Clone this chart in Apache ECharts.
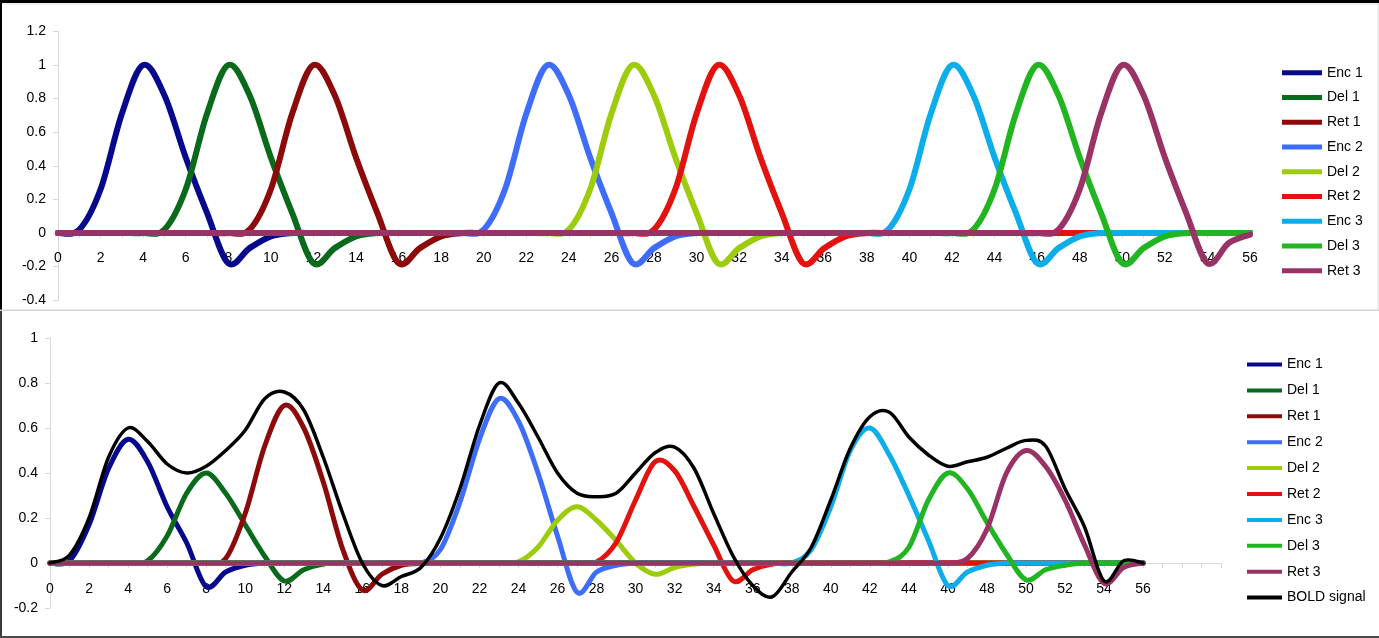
<!DOCTYPE html>
<html>
<head>
<meta charset="utf-8">
<script src="https://cdn.jsdelivr.net/npm/echarts@6/dist/echarts.min.js"></script>
<style>
  html, body { margin: 0; padding: 0; background: #fff; }
  #chart { width: 1379px; height: 638px; }
</style>
</head>
<body>
<div id="chart"></div>
<script>
// Time points (x axis), shared by both panels
const hours = [0,1,2,3,4,5,6,7,8,9,10,11,12,13,14,15,16,17,18,19,20,21,22,23,24,25,26,27,28,29,
               30,31,32,33,34,35,36,37,38,39,40,41,42,43,44,45,46,47,48,49,50,51,52,53,54,55,56];

const names = ['Enc 1','Del 1','Ret 1','Enc 2','Del 2','Ret 2','Enc 3','Del 3','Ret 3'];
const colors = ['#06098c','#0a6a1c','#8c0a0a','#3e6dfa','#9ccc0c','#e3120f','#0badea','#22b522','#993366'];

// Upper panel: unit-amplitude responses per trial phase
const encTop1 = [0,0.02,0.26,0.71,1,0.82,0.45,0.12,-0.18,-0.09,
  -0.02,0,0,0,0,0,0,0,0,0,
  0,0,0,0,0,0,0,0,0,0,
  0,0,0,0,0,0,0,0,0,0,
  0,0,0,0,0,0,0,0,0,0,
  0,0,0,0,0,0,0];
const delTop1 = [0,0,0,0,0,0.02,0.26,0.71,1,0.82,
  0.45,0.12,-0.18,-0.09,-0.02,0,0,0,0,0,
  0,0,0,0,0,0,0,0,0,0,
  0,0,0,0,0,0,0,0,0,0,
  0,0,0,0,0,0,0,0,0,0,
  0,0,0,0,0,0,0];
const retTop1 = [0,0,0,0,0,0,0,0,0,0.02,
  0.26,0.71,1,0.82,0.45,0.12,-0.18,-0.09,-0.02,0,
  0,0,0,0,0,0,0,0,0,0,
  0,0,0,0,0,0,0,0,0,0,
  0,0,0,0,0,0,0,0,0,0,
  0,0,0,0,0,0,0];
const encTop2 = [0,0,0,0,0,0,0,0,0,0,
  0,0,0,0,0,0,0,0,0,0,
  0.02,0.26,0.71,1,0.82,0.45,0.12,-0.18,-0.09,-0.02,
  0,0,0,0,0,0,0,0,0,0,
  0,0,0,0,0,0,0,0,0,0,
  0,0,0,0,0,0,0];
const delTop2 = [0,0,0,0,0,0,0,0,0,0,
  0,0,0,0,0,0,0,0,0,0,
  0,0,0,0,0.02,0.26,0.71,1,0.82,0.45,
  0.12,-0.18,-0.09,-0.02,0,0,0,0,0,0,
  0,0,0,0,0,0,0,0,0,0,
  0,0,0,0,0,0,0];
const retTop2 = [0,0,0,0,0,0,0,0,0,0,
  0,0,0,0,0,0,0,0,0,0,
  0,0,0,0,0,0,0,0,0.02,0.26,
  0.71,1,0.82,0.45,0.12,-0.18,-0.09,-0.02,0,0,
  0,0,0,0,0,0,0,0,0,0,
  0,0,0,0,0,0,0];
const encTop3 = [0,0,0,0,0,0,0,0,0,0,
  0,0,0,0,0,0,0,0,0,0,
  0,0,0,0,0,0,0,0,0,0,
  0,0,0,0,0,0,0,0,0,0.02,
  0.26,0.71,1,0.82,0.45,0.12,-0.18,-0.09,-0.02,0,
  0,0,0,0,0,0,0];
const delTop3 = [0,0,0,0,0,0,0,0,0,0,
  0,0,0,0,0,0,0,0,0,0,
  0,0,0,0,0,0,0,0,0,0,
  0,0,0,0,0,0,0,0,0,0,
  0,0,0,0.02,0.26,0.71,1,0.82,0.45,0.12,
  -0.18,-0.09,-0.02,0,0,0,0];
const retTop3 = [0,0,0,0,0,0,0,0,0,0,
  0,0,0,0,0,0,0,0,0,0,
  0,0,0,0,0,0,0,0,0,0,
  0,0,0,0,0,0,0,0,0,0,
  0,0,0,0,0,0,0,0.02,0.26,0.71,
  1,0.82,0.45,0.12,-0.18,-0.06,-0.01];

// Lower panel: weighted responses and their combined BOLD signal
const encBot1 = [0,0.01,0.17,0.42,0.55,0.45,0.25,0.09,-0.105,-0.04,
  -0.01,0,0,0,0,0,0,0,0,0,
  0,0,0,0,0,0,0,0,0,0,
  0,0,0,0,0,0,0,0,0,0,
  0,0,0,0,0,0,0,0,0,0,
  0,0,0,0,0,0,0];
const delBot1 = [0,0,0,0,0,0.01,0.12,0.31,0.4,0.31,
  0.17,0.03,-0.08,-0.03,-0.005,0,0,0,0,0,
  0,0,0,0,0,0,0,0,0,0,
  0,0,0,0,0,0,0,0,0,0,
  0,0,0,0,0,0,0,0,0,0,
  0,0,0,0,0,0,0];
const retBot1 = [0,0,0,0,0,0,0,0,0,0.02,
  0.22,0.52,0.7,0.6,0.36,0.06,-0.12,-0.05,-0.01,0,
  0,0,0,0,0,0,0,0,0,0,
  0,0,0,0,0,0,0,0,0,0,
  0,0,0,0,0,0,0,0,0,0,
  0,0,0,0,0,0,0];
const encBot2 = [0,0,0,0,0,0,0,0,0,0,
  0,0,0,0,0,0,0,0,0,0,
  0.06,0.27,0.55,0.73,0.63,0.4,0.12,-0.13,-0.04,-0.01,
  0,0,0,0,0,0,0,0,0,0,
  0,0,0,0,0,0,0,0,0,0,
  0,0,0,0,0,0,0];
const delBot2 = [0,0,0,0,0,0,0,0,0,0,
  0,0,0,0,0,0,0,0,0,0,
  0,0,0,0,0.005,0.07,0.19,0.25,0.19,0.1,
  0,-0.05,-0.02,-0.005,0,0,0,0,0,0,
  0,0,0,0,0,0,0,0,0,0,
  0,0,0,0,0,0,0];
const retBot2 = [0,0,0,0,0,0,0,0,0,0,
  0,0,0,0,0,0,0,0,0,0,
  0,0,0,0,0,0,0,0,0.005,0.09,
  0.28,0.45,0.41,0.25,0.08,-0.08,-0.03,-0.005,0,0,
  0,0,0,0,0,0,0,0,0,0,
  0,0,0,0,0,0,0];
const encBot3 = [0,0,0,0,0,0,0,0,0,0,
  0,0,0,0,0,0,0,0,0,0,
  0,0,0,0,0,0,0,0,0,0,
  0,0,0,0,0,0,0,0,0,0.06,
  0.25,0.5,0.6,0.48,0.3,0.1,-0.1,-0.04,-0.01,0,
  0,0,0,0,0,0,0];
const delBot3 = [0,0,0,0,0,0,0,0,0,0,
  0,0,0,0,0,0,0,0,0,0,
  0,0,0,0,0,0,0,0,0,0,
  0,0,0,0,0,0,0,0,0,0,
  0,0,0,0.005,0.07,0.28,0.4,0.33,0.18,0.04,
  -0.075,-0.03,-0.01,0,0,0,0];
const retBot3 = [0,0,0,0,0,0,0,0,0,0,
  0,0,0,0,0,0,0,0,0,0,
  0,0,0,0,0,0,0,0,0,0,
  0,0,0,0,0,0,0,0,0,0,
  0,0,0,0,0,0,0,0.02,0.15,0.4,
  0.5,0.43,0.28,0.08,-0.09,-0.02,0];
const boldSignal = [0,0.035,0.2,0.47,0.6,0.54,0.44,0.4,0.43,0.5,
  0.59,0.73,0.76,0.68,0.47,0.22,0,-0.1,-0.06,-0.02,
  0.11,0.33,0.61,0.8,0.71,0.56,0.4,0.31,0.295,0.31,
  0.4,0.49,0.515,0.42,0.22,0.03,-0.1,-0.15,-0.04,0.07,
  0.28,0.51,0.65,0.67,0.56,0.48,0.43,0.45,0.47,0.51,
  0.545,0.52,0.33,0.16,-0.08,0.01,0];

const topSets = [encTop1, delTop1, retTop1, encTop2, delTop2, retTop2, encTop3, delTop3, retTop3];
const botSets = [encBot1, delBot1, retBot1, encBot2, delBot2, retBot2, encBot3, delBot3, retBot3];

const FONT = '"Liberation Sans", Arial, Helvetica, sans-serif';
const AXIS_GREY = '#d9d9d9';

function toPoints(vals) {
  return hours.map((h, i) => [h, vals[i]]);
}

// Smoothed curve through the data points (cardinal spline, 1/6 tangent),
// positioned with the cartesian coordinate system of the series.
function smoothPath(pts) {
  const n = pts.length;
  let d = 'M' + pts[0][0] + ' ' + pts[0][1];
  for (let i = 0; i < n - 1; i++) {
    const p0 = pts[Math.max(i - 1, 0)];
    const p1 = pts[i];
    const p2 = pts[i + 1];
    const p3 = pts[Math.min(i + 2, n - 1)];
    const c1x = p1[0] + (p2[0] - p0[0]) / 6;
    const c1y = p1[1] + (p2[1] - p0[1]) / 6;
    const c2x = p2[0] - (p3[0] - p1[0]) / 6;
    const c2y = p2[1] - (p3[1] - p1[1]) / 6;
    d += ' C' + c1x + ' ' + c1y + ' ' + c2x + ' ' + c2y + ' ' + p2[0] + ' ' + p2[1];
  }
  return d;
}

function curveSeries(name, color, vals, panel, width) {
  const points = toPoints(vals);
  return {
    name: name,
    type: 'custom',
    coordinateSystem: 'cartesian2d',
    xAxisIndex: panel,
    yAxisIndex: panel,
    data: points,
    encode: { x: 0, y: 1 },
    itemStyle: { color: color },
    silent: true,
    renderItem: function (params, api) {
      if (params.dataIndex !== 0) return null;
      const px = points.map(p => api.coord(p));
      return {
        type: 'path',
        shape: { pathData: smoothPath(px) },
        style: { fill: null, stroke: color, lineWidth: width, lineJoin: 'round', lineCap: 'round' }
      };
    }
  };
}

const series = [];
names.forEach((n, i) => series.push(curveSeries(n, colors[i], topSets[i], 0, 6)));
names.forEach((n, i) => series.push(curveSeries(n, colors[i], botSets[i], 1, 5)));
series.push(curveSeries('BOLD signal', '#000000', boldSignal, 1, 3.5));

// Grid geometry: the x axis sits on the value-0 line of each panel
const topGrid = { left: 58, top: 31.4, width: 1192, height: 268.8 };
const botGrid = { left: 50, top: 338, width: 1171.2, height: 270 };
const topZeroOffset = -topGrid.height * (0.4 / 1.6);
const botZeroOffset = -botGrid.height * (0.2 / 1.2);

function xAxisCfg(grid, max, margin, offset) {
  return {
    gridIndex: grid, type: 'value', min: 0, max: max, interval: 1,
    position: 'bottom', offset: offset,
    axisLine: { onZero: false, lineStyle: { color: AXIS_GREY, width: 1 } },
    axisTick: { show: true, length: 5, lineStyle: { color: AXIS_GREY } },
    splitLine: { show: false },
    axisLabel: {
      margin: margin, fontSize: 14, color: '#000', fontFamily: FONT,
      formatter: v => (v % 2 === 0 && v <= 56) ? String(v) : ''
    }
  };
}
function yAxisCfg(grid, min, max) {
  return {
    gridIndex: grid, type: 'value', min: min, max: max, interval: 0.2,
    axisLine: { show: true, lineStyle: { color: AXIS_GREY, width: 1 } },
    axisTick: { show: true, length: 5, lineStyle: { color: AXIS_GREY } },
    splitLine: { show: false },
    axisLabel: { margin: 12, fontSize: 14, color: '#000', fontFamily: FONT }
  };
}

const chart = echarts.init(document.getElementById('chart'), null, { renderer: 'canvas' });
chart.setOption({
  animation: false,
  backgroundColor: '#ffffff',
  textStyle: { fontFamily: FONT },
  grid: [topGrid, botGrid],
  xAxis: [xAxisCfg(0, 56, 18, topZeroOffset), xAxisCfg(1, 60, 19, botZeroOffset)],
  yAxis: [yAxisCfg(0, -0.4, 1.2), yAxisCfg(1, -0.2, 1)],
  legend: [
    {
      data: names, orient: 'vertical', left: 1282, top: 64.7, padding: 0,
      icon: 'rect', itemWidth: 40, itemHeight: 5, itemGap: 8.75,
      selectedMode: false,
      textStyle: { fontSize: 14, lineHeight: 16, color: '#000', fontFamily: FONT }
    },
    {
      data: names.concat(['BOLD signal']), orient: 'vertical', left: 1247, top: 356.5, padding: 0,
      icon: 'rect', itemWidth: 35, itemHeight: 4, itemGap: 9.9,
      selectedMode: false,
      textStyle: { fontSize: 14, lineHeight: 16, color: '#000', fontFamily: FONT }
    }
  ],
  graphic: [
    { type: 'rect', shape: { x: 0, y: 0, width: 1379, height: 3 }, style: { fill: '#000' }, silent: true },
    { type: 'rect', shape: { x: 0, y: 3.5, width: 1379, height: 1 }, style: { fill: '#e2e2e2' }, silent: true },
    { type: 'rect', shape: { x: 0, y: 0, width: 2, height: 311 }, style: { fill: '#000' }, silent: true },
    { type: 'rect', shape: { x: 1377.5, y: 3, width: 1, height: 308 }, style: { fill: '#dcdcdc' }, silent: true },
    { type: 'rect', shape: { x: 0, y: 309.5, width: 1379, height: 1.5 }, style: { fill: '#d4d4d4' }, silent: true },
    { type: 'rect', shape: { x: 0, y: 311, width: 2, height: 327 }, style: { fill: '#3a3a3a' }, silent: true },
    { type: 'rect', shape: { x: 0, y: 636, width: 1379, height: 2 }, style: { fill: '#4a4a4a' }, silent: true }
  ],
  series: series
});
</script>
</body>
</html>
